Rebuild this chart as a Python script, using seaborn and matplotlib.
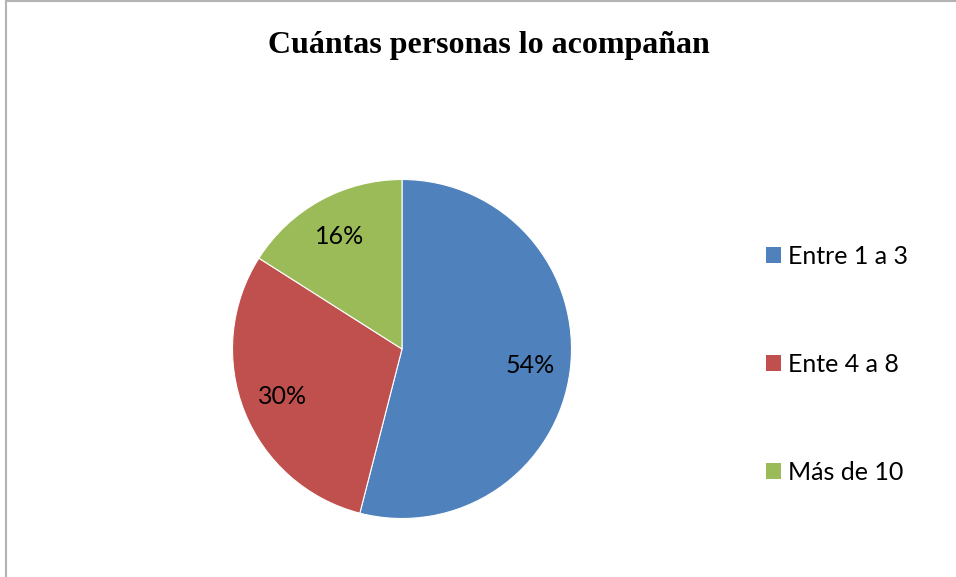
import seaborn as sns
import matplotlib.pyplot as plt
from matplotlib.patches import Rectangle, Patch

# Datos
categorias = ['Entre 1 a 3', 'Ente 4 a 8', 'Más de 10']
porcentajes = [54, 30, 16]
colores = ['#4F81BD', '#C0504D', '#9BBB59']

sns.set_theme(style='white')
plt.rcParams['font.family'] = ['Lato', 'DejaVu Sans']
plt.rcParams['text.color'] = 'black'

fig = plt.figure(figsize=(9.56, 5.77), dpi=100)

# marco gris del gráfico
fig.patches.append(Rectangle((6 / 956, -0.05), 1.2, 1.05 - 1 / 577,
                             transform=fig.transFigure, fill=False,
                             edgecolor='#b3b3b3', linewidth=1.5))

# centro (402, 349), radio ~169.5 px
ax = fig.add_axes([(402 - 169.5) / 956, (577 - 349 - 169.5) / 577,
                   339 / 956, 339 / 577])
paleta = sns.color_palette(colores)
wedges, textos, pct = ax.pie(porcentajes, colors=paleta, startangle=90,
                             counterclock=False, autopct='%1.0f%%',
                             pctdistance=0.76,
                             wedgeprops=dict(edgecolor='white', linewidth=0.8),
                             textprops=dict(fontsize=18, color='black'))
ax.set_xlim(-1, 1)
ax.set_ylim(-1, 1)
ax.set_aspect('equal')

fig.text(489 / 956, 1 - 46 / 577, 'Cuántas personas lo acompañan',
         ha='center', va='center', fontsize=23, fontweight='bold',
         family='Liberation Serif', color='black')

handles = [Patch(facecolor=c, edgecolor='none') for c in paleta]
fig.legend(handles, categorias, loc='center left',
           bbox_to_anchor=(743 / 956, 1 - 364 / 577), frameon=False,
           fontsize=18, handlelength=0.62, handleheight=0.62,
           handletextpad=0.28, labelspacing=3.4)

fig.savefig('out.png', dpi=100)
